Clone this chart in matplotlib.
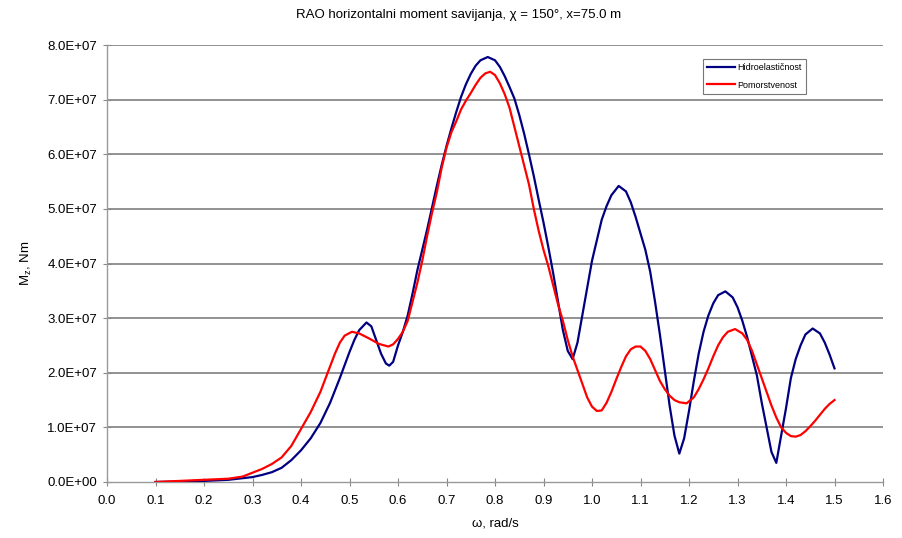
import matplotlib
matplotlib.use("Agg")
import matplotlib.pyplot as plt
from matplotlib.ticker import FuncFormatter

plt.rcParams['font.family'] = ['Liberation Sans', 'DejaVu Sans']
plt.rcParams['mathtext.default'] = 'regular'

# Hidroelasticnost (blue)
omega_h = [0.10, 0.15, 0.20, 0.25, 0.28, 0.30, 0.32, 0.34, 0.36, 0.38, 0.40, 0.42, 0.44, 0.46,
           0.48, 0.50, 0.51, 0.52, 0.535, 0.545, 0.555, 0.565, 0.575, 0.582, 0.59, 0.60, 0.61,
           0.62, 0.63, 0.64, 0.65, 0.66, 0.67, 0.68, 0.69, 0.70, 0.71, 0.72, 0.73, 0.74, 0.75,
           0.76, 0.77, 0.785, 0.80, 0.81, 0.82, 0.83, 0.84, 0.85, 0.86, 0.87, 0.88, 0.89, 0.90,
           0.91, 0.92, 0.93, 0.94, 0.95, 0.96, 0.97, 0.98, 0.99, 1.00, 1.02, 1.03, 1.04, 1.055,
           1.07, 1.08, 1.09, 1.10, 1.11, 1.12, 1.13, 1.14, 1.15, 1.16, 1.17, 1.18, 1.19, 1.20,
           1.21, 1.22, 1.23, 1.24, 1.25, 1.26, 1.275, 1.29, 1.30, 1.31, 1.32, 1.33, 1.34, 1.35,
           1.36, 1.37, 1.38, 1.39, 1.40, 1.41, 1.42, 1.43, 1.44, 1.455, 1.47, 1.48, 1.49, 1.50]
moment_h = [0.0, 0.01, 0.02, 0.04, 0.07, 0.09, 0.13, 0.18, 0.26, 0.40, 0.58, 0.80, 1.08, 1.45,
            1.90, 2.38, 2.60, 2.78, 2.92, 2.85, 2.60, 2.35, 2.17, 2.13, 2.20, 2.50, 2.75,
            3.05, 3.45, 3.88, 4.25, 4.62, 5.02, 5.42, 5.80, 6.15, 6.47, 6.77, 7.05, 7.28, 7.47,
            7.62, 7.72, 7.78, 7.72, 7.60, 7.43, 7.23, 7.02, 6.72, 6.38, 6.00, 5.60, 5.17, 4.75,
            4.30, 3.82, 3.30, 2.78, 2.40, 2.25, 2.55, 3.05, 3.55, 4.05, 4.80, 5.05, 5.25, 5.42,
            5.32, 5.12, 4.85, 4.55, 4.25, 3.85, 3.30, 2.70, 2.05, 1.40, 0.85, 0.52, 0.80, 1.30,
            1.85, 2.35, 2.75, 3.05, 3.27, 3.42, 3.49, 3.38, 3.20, 2.95, 2.65, 2.30, 1.95, 1.45,
            1.00, 0.55, 0.35, 0.85, 1.35, 1.90, 2.25, 2.50, 2.70, 2.81, 2.72, 2.55, 2.33, 2.08]

# Pomorstvenost (red)
omega_p = [0.10, 0.15, 0.20, 0.25, 0.28, 0.30, 0.32, 0.34, 0.36, 0.38, 0.40, 0.42, 0.44, 0.455,
           0.47, 0.48, 0.49, 0.505, 0.52, 0.54, 0.56, 0.58, 0.59, 0.60, 0.61, 0.62, 0.63, 0.64,
           0.65, 0.66, 0.67, 0.68, 0.69, 0.70, 0.71, 0.72, 0.73, 0.74, 0.75, 0.76, 0.77, 0.78,
           0.79, 0.80, 0.81, 0.82, 0.83, 0.84, 0.85, 0.86, 0.87, 0.88, 0.89, 0.90, 0.91, 0.92,
           0.93, 0.94, 0.95, 0.96, 0.97, 0.98, 0.99, 1.00, 1.01, 1.02, 1.03, 1.04, 1.05, 1.06,
           1.07, 1.08, 1.09, 1.10, 1.11, 1.12, 1.13, 1.14, 1.15, 1.16, 1.17, 1.18, 1.195, 1.21,
           1.22, 1.23, 1.24, 1.25, 1.26, 1.27, 1.28, 1.295, 1.31, 1.32, 1.33, 1.34, 1.35, 1.36,
           1.37, 1.38, 1.39, 1.40, 1.41, 1.42, 1.43, 1.44, 1.45, 1.46, 1.47, 1.48, 1.49, 1.50]
moment_p = [0.0, 0.02, 0.04, 0.06, 0.10, 0.17, 0.24, 0.33, 0.45, 0.66, 0.97, 1.28, 1.65, 2.00,
            2.35, 2.55, 2.68, 2.75, 2.72, 2.63, 2.53, 2.48, 2.52, 2.62, 2.75, 2.95, 3.30, 3.65,
            4.05, 4.50, 4.92, 5.30, 5.75, 6.12, 6.40, 6.60, 6.82, 6.98, 7.12, 7.27, 7.40, 7.48,
            7.51, 7.45, 7.30, 7.10, 6.85, 6.50, 6.15, 5.80, 5.45, 5.00, 4.60, 4.25, 3.95, 3.60,
            3.25, 2.95, 2.60, 2.30, 2.05, 1.80, 1.55, 1.38, 1.30, 1.31, 1.45, 1.65, 1.88, 2.10,
            2.30, 2.43, 2.48, 2.48, 2.40, 2.25, 2.05, 1.85, 1.70, 1.58, 1.50, 1.46, 1.44, 1.55,
            1.70, 1.88, 2.08, 2.30, 2.50, 2.65, 2.75, 2.80, 2.72, 2.60, 2.40, 2.15, 1.90, 1.65,
            1.40, 1.18, 1.00, 0.90, 0.84, 0.83, 0.86, 0.93, 1.02, 1.12, 1.23, 1.34, 1.43, 1.50]

scale = 1e7
x_ticks = [i / 10 for i in range(17)]
y_ticks = [i * 1e7 for i in range(9)]

fig = plt.figure(figsize=(9.02, 5.38), dpi=100)
ax = fig.add_axes([107 / 902, 1 - 482 / 538, (883 - 107) / 902, (482 - 45) / 538])

ax.plot(omega_h, [v * scale for v in moment_h], color='#000080', lw=1.6,
        label='Hidroelastičnost', zorder=3)
ax.plot(omega_p, [v * scale for v in moment_p], color='#ff0000', lw=1.6,
        label='Pomorstvenost', zorder=3)

ax.set_xlim(0, 1.6)
ax.set_ylim(0, 8e7)
ax.set_xticks(x_ticks)
ax.set_yticks(y_ticks)
ax.xaxis.set_major_formatter(FuncFormatter(lambda v, p: f"{v:.1f}"))
ax.yaxis.set_major_formatter(FuncFormatter(lambda v, p: f"{v/1e7:.1f}E+07" if v > 0 else "0.0E+00"))

for y in y_ticks[1:]:
    ax.axhline(y, color='#7f7f7f', lw=1.2, zorder=1)

for s in ['top', 'right']:
    ax.spines[s].set_visible(False)
for s in ['left', 'bottom']:
    ax.spines[s].set_color('#999999')
    ax.spines[s].set_linewidth(1.0)

ax.tick_params(axis='both', direction='inout', length=6, width=0.8, color='#888888',
               labelsize=9.5, labelcolor='#000000')
ax.tick_params(axis='x', pad=6)
ax.tick_params(axis='y', pad=4)

ax.set_xlabel('ω, rad/s', fontsize=9.5, labelpad=8)
ax.set_ylabel('M$_z$, Nm', fontsize=9.5, labelpad=10)

fig.text(459 / 902, 1 - 15 / 538, 'RAO horizontalni moment savijanja, χ = 150°, x=75.0 m',
         ha='center', va='center', fontsize=9.5)

leg = ax.legend(loc='upper left', bbox_to_anchor=(0.768, 0.968), fontsize=6.5,
                frameon=True, fancybox=False, edgecolor='#555555', handlelength=3.0,
                handletextpad=0.3, borderpad=0.5, labelspacing=0.9, borderaxespad=0)
leg.get_frame().set_linewidth(0.8)

fig.savefig('out.png', dpi=100, facecolor='white')
